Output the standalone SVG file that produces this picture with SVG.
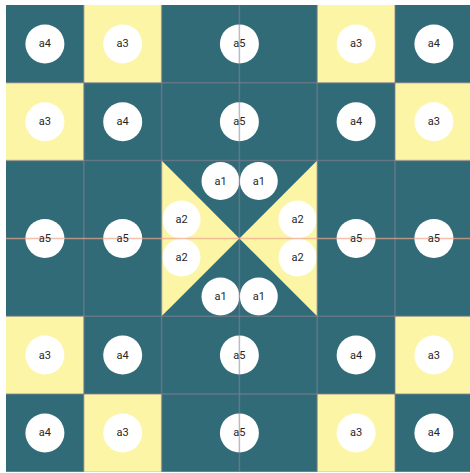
<svg xmlns="http://www.w3.org/2000/svg" width="470" height="473" viewBox="0 0 470 473">
<style>
.teal{fill:#316b78}
.yel{fill:#fcf5a6}
.n circle{fill:#ffffff}
.n text{font-family:Roboto,"Liberation Sans",sans-serif;font-size:11px;fill:#262626;text-anchor:middle;dominant-baseline:central}
.gl{stroke:#8c7f8f;stroke-width:1.5;opacity:0.55;fill:none}
.gc{stroke:#f0a58f;stroke-width:1.5;opacity:0.7;fill:none}
</style>
<rect x="0" y="0" width="470" height="473" fill="#ffffff"/>
<g id="cells">
<rect class="teal" x="6" y="5" width="466.8" height="466.8"/>
<rect class="yel" x="83.8" y="5" width="77.8" height="77.8"/>
<rect class="yel" x="317.2" y="5" width="77.8" height="77.8"/>
<rect class="yel" x="6" y="82.8" width="77.8" height="77.8"/>
<rect class="yel" x="395" y="82.8" width="77.8" height="77.8"/>
<rect class="yel" x="6" y="316.2" width="77.8" height="77.8"/>
<rect class="yel" x="395" y="316.2" width="77.8" height="77.8"/>
<rect class="yel" x="83.8" y="394" width="77.8" height="77.8"/>
<rect class="yel" x="317.2" y="394" width="77.8" height="77.8"/>
<polygon class="yel" points="161.6,160.6 161.6,316.2 239.4,238.4"/>
<polygon class="yel" points="317.2,160.6 317.2,316.2 239.4,238.4"/>
</g>
<g id="nodes">
<g id="n-r0c0" class="n"><circle cx="44.9" cy="43.9" r="19.5"/></g>
<g id="n-r0c1" class="n"><circle cx="122.7" cy="43.9" r="19.5"/></g>
<g id="n-r0c23" class="n"><circle cx="239.4" cy="43.9" r="19.5"/></g>
<g id="n-r0c4" class="n"><circle cx="356.1" cy="43.9" r="19.5"/></g>
<g id="n-r0c5" class="n"><circle cx="433.9" cy="43.9" r="19.5"/></g>
<g id="n-r1c0" class="n"><circle cx="44.9" cy="121.7" r="19.5"/></g>
<g id="n-r1c1" class="n"><circle cx="122.7" cy="121.7" r="19.5"/></g>
<g id="n-r1c23" class="n"><circle cx="239.4" cy="121.7" r="19.5"/></g>
<g id="n-r1c4" class="n"><circle cx="356.1" cy="121.7" r="19.5"/></g>
<g id="n-r1c5" class="n"><circle cx="433.9" cy="121.7" r="19.5"/></g>
<g id="n-mc0" class="n"><circle cx="44.9" cy="238.4" r="19.5"/></g>
<g id="n-mc1" class="n"><circle cx="122.7" cy="238.4" r="19.5"/></g>
<g id="n-mc4" class="n"><circle cx="356.1" cy="238.4" r="19.5"/></g>
<g id="n-mc5" class="n"><circle cx="433.9" cy="238.4" r="19.5"/></g>
<g id="n-r4c0" class="n"><circle cx="44.9" cy="355.1" r="19.5"/></g>
<g id="n-r4c1" class="n"><circle cx="122.7" cy="355.1" r="19.5"/></g>
<g id="n-r4c23" class="n"><circle cx="239.4" cy="355.1" r="19.5"/></g>
<g id="n-r4c4" class="n"><circle cx="356.1" cy="355.1" r="19.5"/></g>
<g id="n-r4c5" class="n"><circle cx="433.9" cy="355.1" r="19.5"/></g>
<g id="n-r5c0" class="n"><circle cx="44.9" cy="432.9" r="19.5"/></g>
<g id="n-r5c1" class="n"><circle cx="122.7" cy="432.9" r="19.5"/></g>
<g id="n-r5c23" class="n"><circle cx="239.4" cy="432.9" r="19.5"/></g>
<g id="n-r5c4" class="n"><circle cx="356.1" cy="432.9" r="19.5"/></g>
<g id="n-r5c5" class="n"><circle cx="433.9" cy="432.9" r="19.5"/></g>
<g id="n-a1-tl" class="n"><circle cx="220.5" cy="181" r="19"/></g>
<g id="n-a1-tr" class="n"><circle cx="258.8" cy="181" r="19"/></g>
<g id="n-a1-bl" class="n"><circle cx="220.5" cy="296.5" r="19"/></g>
<g id="n-a1-br" class="n"><circle cx="258.8" cy="296.5" r="19"/></g>
<g id="n-a2-lt" class="n"><circle cx="181.5" cy="219.5" r="19"/></g>
<g id="n-a2-lb" class="n"><circle cx="181.5" cy="257.5" r="19"/></g>
<g id="n-a2-rt" class="n"><circle cx="297.5" cy="219.5" r="19"/></g>
<g id="n-a2-rb" class="n"><circle cx="297.5" cy="257.5" r="19"/></g>
</g>
<g id="connectors">
<line class="gl" x1="83.8" y1="5" x2="83.8" y2="471.8"/>
<line class="gl" x1="161.6" y1="5" x2="161.6" y2="471.8"/>
<line class="gl" x1="239.4" y1="5" x2="239.4" y2="471.8"/>
<line class="gl" x1="317.2" y1="5" x2="317.2" y2="471.8"/>
<line class="gl" x1="395" y1="5" x2="395" y2="471.8"/>
<line class="gl" x1="6" y1="82.8" x2="472.8" y2="82.8"/>
<line class="gl" x1="6" y1="160.6" x2="472.8" y2="160.6"/>
<line class="gc" x1="6" y1="238.4" x2="472.8" y2="238.4"/>
<line class="gl" x1="6" y1="316.2" x2="472.8" y2="316.2"/>
<line class="gl" x1="6" y1="394" x2="472.8" y2="394"/>
</g>
<g id="labels" class="n">
<text x="44.9" y="43.9">a4</text>
<text x="122.7" y="43.9">a3</text>
<text x="239.4" y="43.9">a5</text>
<text x="356.1" y="43.9">a3</text>
<text x="433.9" y="43.9">a4</text>
<text x="44.9" y="121.7">a3</text>
<text x="122.7" y="121.7">a4</text>
<text x="239.4" y="121.7">a5</text>
<text x="356.1" y="121.7">a4</text>
<text x="433.9" y="121.7">a3</text>
<text x="44.9" y="238.4">a5</text>
<text x="122.7" y="238.4">a5</text>
<text x="356.1" y="238.4">a5</text>
<text x="433.9" y="238.4">a5</text>
<text x="44.9" y="355.1">a3</text>
<text x="122.7" y="355.1">a4</text>
<text x="239.4" y="355.1">a5</text>
<text x="356.1" y="355.1">a4</text>
<text x="433.9" y="355.1">a3</text>
<text x="44.9" y="432.9">a4</text>
<text x="122.7" y="432.9">a3</text>
<text x="239.4" y="432.9">a5</text>
<text x="356.1" y="432.9">a3</text>
<text x="433.9" y="432.9">a4</text>
<text x="220.5" y="181">a1</text>
<text x="258.8" y="181">a1</text>
<text x="220.5" y="296.5">a1</text>
<text x="258.8" y="296.5">a1</text>
<text x="181.5" y="219.5">a2</text>
<text x="181.5" y="257.5">a2</text>
<text x="297.5" y="219.5">a2</text>
<text x="297.5" y="257.5">a2</text>
</g>
</svg>
